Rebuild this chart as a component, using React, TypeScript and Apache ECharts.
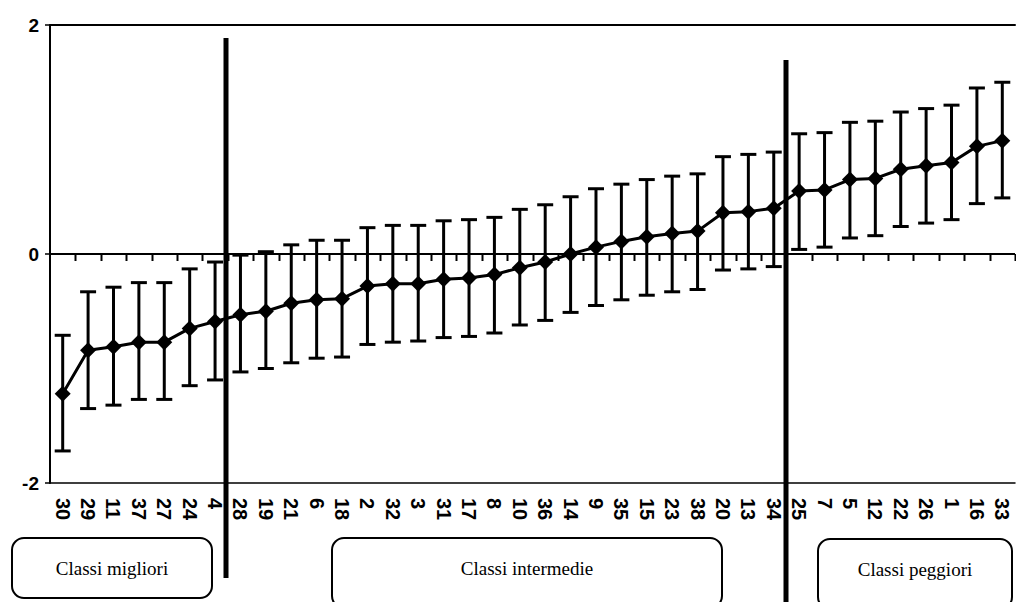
import React, { useEffect, useRef } from "react";
import * as echarts from "echarts";

const categories = ["30","29","11","37","27","24","4","28","19","21","6","18","2","32","3","31","17","8","10","36","14","9","35","15","23","38","20","13","34","25","7","5","12","22","26","1","16","33"];
const means = [-1.22,-0.84,-0.81,-0.77,-0.77,-0.65,-0.59,-0.53,-0.50,-0.43,-0.40,-0.39,-0.28,-0.26,-0.26,-0.22,-0.21,-0.18,-0.12,-0.07,0.00,0.06,0.11,0.15,0.18,0.20,0.36,0.37,0.40,0.55,0.56,0.65,0.66,0.74,0.77,0.80,0.94,0.99];
const upper = [-0.71,-0.33,-0.29,-0.25,-0.25,-0.13,-0.07,-0.01,0.02,0.08,0.12,0.12,0.23,0.25,0.25,0.29,0.30,0.32,0.39,0.43,0.50,0.57,0.61,0.65,0.68,0.70,0.85,0.87,0.89,1.05,1.06,1.15,1.16,1.24,1.27,1.30,1.45,1.50];
const lower = [-1.72,-1.35,-1.32,-1.27,-1.27,-1.15,-1.10,-1.03,-1.00,-0.95,-0.91,-0.90,-0.79,-0.77,-0.76,-0.73,-0.72,-0.69,-0.62,-0.58,-0.51,-0.45,-0.40,-0.36,-0.33,-0.31,-0.14,-0.13,-0.11,0.04,0.06,0.14,0.16,0.24,0.27,0.30,0.44,0.49];
const yTicks = [-2, 0, 2];
const groupLabels = ["Classi migliori", "Classi intermedie", "Classi peggiori"];

export default function App() {
  const ref = useRef<HTMLDivElement>(null);
  useEffect(() => {
    if (!ref.current) return;
    const chart = echarts.init(ref.current, null, { renderer: "svg" });
    const labelFont = { fontFamily: "Liberation Sans", fontWeight: "bold" as const, color: "#000" };
    const boxStyle = { fill: "#fff", stroke: "#000", lineWidth: 2 };
    const textStyle = { fill: "#000", font: "19px 'Liberation Serif'", align: "center", verticalAlign: "middle" };
    chart.setOption({
      animation: false,
      backgroundColor: "#fff",
      grid: { left: 50, right: 1, top: 25, bottom: 119, containLabel: false },
      xAxis: [
        {
          type: "category",
          data: categories,
          position: "bottom",
          boundaryGap: true,
          axisLine: { onZero: false, lineStyle: { color: "#000", width: 1.5 } },
          axisTick: { show: false },
          axisLabel: { ...labelFont, rotate: -90, fontSize: 20, margin: 15, interval: 0 },
          splitLine: { show: false },
        },
        {
          type: "category",
          data: categories,
          position: "top",
          axisLine: { onZero: false, lineStyle: { color: "#000", width: 2 } },
          axisTick: { show: false },
          axisLabel: { show: false },
          splitLine: { show: false },
        },
      ],
      yAxis: {
        type: "value",
        min: yTicks[0],
        max: yTicks[yTicks.length - 1],
        interval: 2,
        axisLine: { show: true, onZero: false, lineStyle: { color: "#000", width: 2 } },
        axisTick: { show: true, length: 5, lineStyle: { color: "#000", width: 1.5 } },
        axisLabel: { ...labelFont, fontSize: 19, margin: 11 },
        splitLine: { show: false },
      },
      series: [
        {
          type: "custom",
          xAxisIndex: 0,
          yAxisIndex: 0,
          encode: { x: 0, y: [1, 2] },
          data: categories.map((c, i) => [i, lower[i], upper[i]]),
          renderItem: (params: any, api: any) => {
            const i = api.value(0);
            const lo = api.coord([i, api.value(1)]);
            const hi = api.coord([i, api.value(2)]);
            const hw = 8;
            const st = { stroke: "#000", lineWidth: 3 };
            return {
              type: "group",
              children: [
                { type: "line", shape: { x1: lo[0], y1: lo[1], x2: hi[0], y2: hi[1] }, style: st },
                { type: "line", shape: { x1: lo[0] - hw, y1: lo[1], x2: lo[0] + hw, y2: lo[1] }, style: st },
                { type: "line", shape: { x1: hi[0] - hw, y1: hi[1], x2: hi[0] + hw, y2: hi[1] }, style: st },
              ],
            };
          },
          z: 2,
        },
        {
          type: "line",
          xAxisIndex: 0,
          yAxisIndex: 0,
          data: means,
          symbol: "diamond",
          symbolSize: 16,
          lineStyle: { color: "#000", width: 3 },
          itemStyle: { color: "#000" },
          z: 3,
        },
      ],
    });

    const y0 = chart.convertToPixel({ yAxisIndex: 0 }, 0) as number;
    const xa = chart.convertToPixel({ xAxisIndex: 0 }, 0) as number;
    const xb = chart.convertToPixel({ xAxisIndex: 0 }, 1) as number;
    const band = xb - xa;
    const left = xa - band / 2;
    const right = left + band * categories.length;
    const ticks: any[] = categories.map((c, i) => {
      const bx = Math.round(left + band * (i + 1)) + 0.5;
      return { type: "line", shape: { x1: bx, y1: y0, x2: bx, y2: y0 + 7 }, style: { stroke: "#000", lineWidth: 2 }, z: 1 };
    });
    chart.setOption({
      graphic: [
        { type: "line", shape: { x1: left, y1: y0, x2: right, y2: y0 }, style: { stroke: "#000", lineWidth: 2 }, z: 1 },
        ...ticks,
        { type: "line", shape: { x1: 226, y1: 38, x2: 226, y2: 578 }, style: { stroke: "#000", lineWidth: 5 }, z: 10 },
        { type: "line", shape: { x1: 786, y1: 60, x2: 786, y2: 602 }, style: { stroke: "#000", lineWidth: 5 }, z: 10 },
        { type: "rect", shape: { x: 12, y: 538, width: 200, height: 60, r: 12 }, style: boxStyle, z: 5 },
        { type: "text", x: 112, y: 568, style: { ...textStyle, text: groupLabels[0] }, z: 6 },
        { type: "rect", shape: { x: 332, y: 538, width: 390, height: 70, r: 12 }, style: boxStyle, z: 5 },
        { type: "text", x: 527, y: 568, style: { ...textStyle, text: groupLabels[1] }, z: 6 },
        { type: "rect", shape: { x: 818, y: 539, width: 194, height: 70, r: 12 }, style: boxStyle, z: 5 },
        { type: "text", x: 915, y: 569, style: { ...textStyle, text: groupLabels[2] }, z: 6 },
      ],
    });
    return () => chart.dispose();
  }, []);
  return <div ref={ref} style={{ position: "fixed", left: 0, top: 0, width: 1016, height: 602 }} />;
}
